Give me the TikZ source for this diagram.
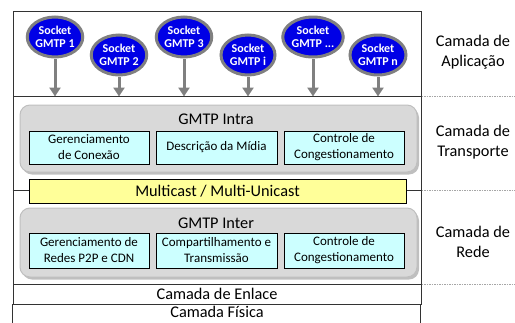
\documentclass[tikz,border=0pt]{standalone}
\usepackage{fontspec}
\setmainfont{Carlito}
\usetikzlibrary{shapes.geometric}
\usetikzlibrary{arrows.meta}
\usetikzlibrary{shadows}
\definecolor{azulsocket}{RGB}{0,0,230}
\definecolor{cianoclaro}{RGB}{204,255,255}
\definecolor{amareloclaro}{RGB}{255,255,153}
\definecolor{cinzabloco}{RGB}{217,217,217}
\tikzset{>=stealth}
\tikzset{
	% moldura das camadas
	moldura/.style={draw=black!80,line width=1pt,inner sep=0pt},
	% sockets
	socket/.style={ellipse,draw=gray,line width=3pt,fill=azulsocket,text=white,
		font=\fontsize{12}{13.5}\selectfont\bfseries,align=center,
		minimum width=54pt,minimum height=40pt,inner sep=0pt},
	seta/.style={draw=gray,line width=3pt,-{Triangle[width=11pt,length=9pt]}},
	% blocos GMTP
	bloco/.style={draw=black!25,fill=cinzabloco,rounded corners=10pt,line width=1pt,
		drop shadow={shadow xshift=2pt,shadow yshift=-2.5pt,fill=gray}},
	caixa/.style={draw=black,fill=cianoclaro,line width=1pt,align=center,
		font=\fontsize{13}{16}\selectfont,minimum width=120pt,inner sep=0pt},
	grande/.style={font=\fontsize{16.3}{20}\selectfont,align=center},
	tracejado/.style={draw=black!35,dashed,dash pattern=on 1.5pt off 1pt,line width=0.6pt},
}

\begin{document}
\begin{tikzpicture}[x=1pt,y=-1pt]
	\useasboundingbox (0,0) rectangle (515,322);
	\coordinate (borda) at (515,0);
	
	% camada de aplicacao
	\node[moldura,minimum width=408pt,minimum height=85pt] (app) at (217,53.5) {};
	\node[socket] (s1) at (55,37) {Socket\\GMTP 1};
	\node[socket] (s2) at (119,55) {Socket\\GMTP 2};
	\node[socket] (s3) at (184,37) {Socket\\GMTP 3};
	\node[socket] (si) at (248,55) {Socket\\GMTP i};
	\node[socket] (sx) at (313,37) {Socket\\GMTP ...};
	\node[socket] (sn) at (378,55) {Socket\\GMTP n};
	\draw[seta] (s1.south) -- (s1.south |- app.south);
	\draw[seta] (s2.south) -- (s2.south |- app.south);
	\draw[seta] (s3.south) -- (s3.south |- app.south);
	\draw[seta] (si.south) -- (si.south |- app.south);
	\draw[seta] (sx.south) -- (sx.south |- app.south);
	\draw[seta] (sn.south) -- (sn.south |- app.south);
	
	% transporte e rede
	\node[moldura,minimum width=408pt,minimum height=188pt] (meio) at (217,190) {};
	\draw[moldura] (meio.west) -- (meio.east);
	
	\node[bloco,minimum width=397pt,minimum height=67pt] (intra) at (218.5,138.5) {};
	\node[grande] (intratit) at (216,119) {GMTP Intra};
	\node[caixa,minimum height=33pt] (conexao) at (89,147.5) {Gerenciamento\\de Conexão};
	\node[caixa,minimum height=33pt,minimum width=121pt] (midia) at (216.5,147.5) {Descrição da Mídia};
	\node[caixa,minimum height=33pt] (congintra) at (344,147.5) {Controle de\\Congestionamento};
	
	\node[draw=black,fill=amareloclaro,line width=1pt,grande,minimum width=377pt,minimum height=24pt,inner sep=0pt] (multicast) at (217.5,191) {Multicast / Multi-Unicast};
	
	\node[bloco,minimum width=397pt,minimum height=69pt] (inter) at (218.5,242.5) {};
	\node[grande] (intertit) at (216,223) {GMTP Inter};
	\node[caixa,minimum height=35pt] (redes) at (89,250.5) {Gerenciamento de\\Redes P2P e CDN};
	\node[caixa,minimum height=35pt,minimum width=121pt] (transm) at (216.5,250.5) {Compartilhamento e\\Transmissão};
	\node[caixa,minimum height=35pt] (conginter) at (344,250.5) {Controle de\\Congestionamento};
	
	% enlace e fisica
	\node[moldura,grande,minimum width=408pt,minimum height=20pt] (enlace) at (217,294) {Camada de Enlace};
	\draw[moldura] (enlace.south west) rectangle ++(408,22);
	\node[grande,inner sep=0pt] (fisica) at (217,312) {Camada Física};
	
	% rotulos
	\draw[tracejado] (app.south east) -- (app.south east -| borda);
	\draw[tracejado] (meio.east) -- (meio.east -| borda);
	\draw[tracejado] (meio.south east) -- (meio.south east -| borda);
	\node[grande] (rotapp) at (473,52) {Camada de\\Aplicação};
	\node[grande] (rottransp) at (473,142) {Camada de\\Transporte};
	\node[grande] (rotrede) at (473,242) {Camada de\\Rede};
	
\end{tikzpicture}
\end{document}
